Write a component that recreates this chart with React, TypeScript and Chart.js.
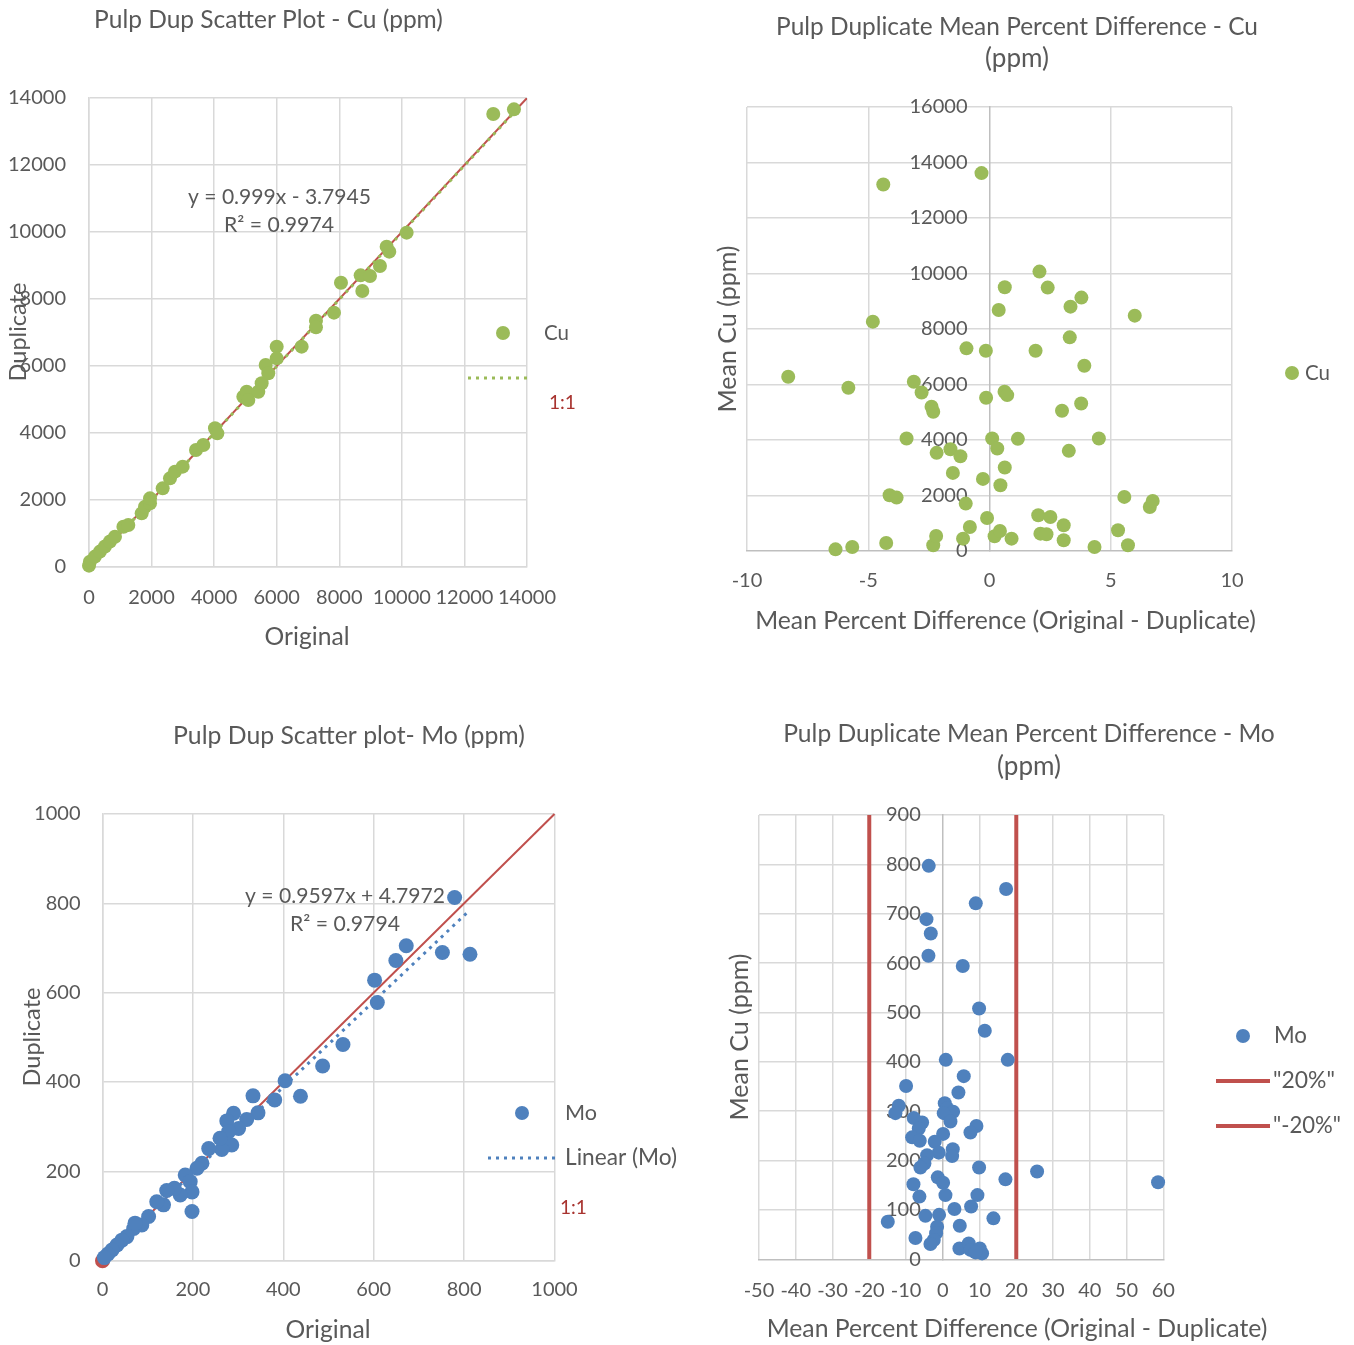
import React, { useEffect, useRef } from "react";
import { Chart, registerables } from "chart.js";

Chart.register(...registerables);

const FONT = "Lato, 'Open Sans', sans-serif";
const TEXT = "#595959";
const GRID = "#D9D9D9";
const AXIS = "#BFBFBF";
const GREEN = "#9BBB59";
const BLUE = "#4F81BD";
const RED = "#C0504D";
const DARKRED = "#A8332F";

// ---------- Chart 1: Pulp Dup Scatter Plot - Cu ----------
const cuOriginal = [0, 30, 190, 350, 510, 670, 830, 1100, 1257, 1684, 1790, 1950, 1950, 2355, 2589, 2749, 2994, 3420, 3654, 4027, 4102, 4933, 5040, 5093, 5412, 5519, 5647, 5731, 5999, 5999, 6797, 7255, 7255, 7830, 8054, 8683, 8736, 8981, 9300, 9514, 9598, 10153, 12922, 13583];
const cuDuplicate = [40, 160, 310, 460, 610, 760, 905, 1200, 1254, 1602, 1800, 1900, 2050, 2348, 2647, 2846, 2995, 3493, 3642, 4140, 3990, 5084, 5233, 4985, 5233, 5483, 6030, 5782, 6577, 6229, 6577, 7353, 7154, 7592, 8487, 8706, 8239, 8686, 8985, 9562, 9413, 9980, 13522, 13661];
const cuFit = { slope: 0.999, intercept: -3.7945, r2: 0.9974 };
const cuScatterTicks = [0, 2000, 4000, 6000, 8000, 10000, 12000, 14000];

// ---------- Chart 2: Mean Percent Difference - Cu ----------
const cuMeanPctDiff = [-4.38, -0.33, -8.3, -5.82, -4.81, -3.42, -3.12, -2.8, -2.39, -2.32, -2.18, -1.61, -1.2, -1.51, -0.95, -0.15, -0.14, -4.12, -3.83, -6.35, -5.66, -4.26, -2.32, -2.2, -1.09, -0.98, -0.81, -0.27, -0.1, 0.11, 0.32, 0.63, 0.45, 0.21, 0.43, 0.91, 1.17, 0.63, 0.38, 0.62, 0.73, 2.06, 2.4, 1.9, 2.01, 2.51, 2.1, 2.35, 2.99, 3.06, 3.06, 3.27, 3.34, 3.31, 3.79, 3.91, 3.78, 4.51, 4.33, 5.3, 5.56, 5.71, 5.99, 6.61, 6.73];
const cuMean = [13209, 13618, 6280, 5883, 8265, 4054, 6099, 5714, 5197, 5017, 3537, 3669, 3417, 2815, 7302, 7218, 5522, 2009, 1925, 60, 144, 289, 205, 541, 445, 1708, 866, 2598, 1191, 4054, 3693, 3008, 2370, 529, 722, 445, 4042, 9504, 8686, 5738, 5618, 10069, 9492, 7218, 1287, 1227, 626, 601, 5053, 926, 385, 3609, 8806, 7699, 9131, 6677, 5317, 4054, 144, 746, 1949, 205, 8481, 1588, 1805];
const cuPctTicks = [-10, -5, 0, 5, 10];
const cuMeanTicks = [0, 2000, 4000, 6000, 8000, 10000, 12000, 14000, 16000];

// ---------- Chart 3: Pulp Dup Scatter plot - Mo ----------
const moOriginal = [779, 752, 813, 672, 649, 602, 608, 532, 487, 438, 404, 381, 333, 344, 290, 319, 275, 301, 279, 286, 264, 235, 260, 220, 209, 183, 194, 198, 198, 172, 159, 142, 135, 120, 102, 87, 69, 72, 54, 43, 32, 21, 12, 4];
const moDuplicate = [813, 690, 686, 705, 672, 628, 578, 484, 436, 368, 403, 360, 369, 331, 330, 316, 313, 296, 289, 259, 249, 251, 274, 218, 207, 192, 177, 154, 110, 147, 162, 157, 125, 132, 99, 80, 72, 84, 54, 46, 35, 24, 15, 7];
const moFit = { slope: 0.9597, intercept: 4.7972, r2: 0.9794 };
const moScatterTicks = [0, 200, 400, 600, 800, 1000];

// ---------- Chart 4: Mean Percent Difference - Mo ----------
const moMeanPctDiff = [-3.81, 17.23, 8.98, -4.44, -3.26, -3.9, 5.44, 9.88, 11.43, 0.82, 17.68, 5.71, -9.98, 4.26, -11.97, -12.88, 0.54, 1.18, 2.81, 0.27, 2.09, -7.89, -5.62, -6.53, 9.16, 7.53, 0.09, -8.34, -6.26, -2.18, 2.72, 2.54, -1.09, -4.26, -4.99, -6.08, 9.88, 25.66, 17.05, 58.58, -1.36, 0.09, -7.98, -6.35, 0.73, 9.43, 7.71, 3.17, -1.0, -4.72, 13.78, -14.96, 4.63, -1.54, -1.81, -2.45, -3.36, -7.44, 4.53, 7.07, 7.53, 10.07, 10.7, 8.89];
const moMean = [797, 750, 721, 689, 660, 615, 594, 508, 463, 404, 404, 371, 351, 338, 311, 296, 316, 306, 299, 296, 279, 286, 277, 265, 270, 257, 254, 247, 240, 238, 223, 209, 216, 211, 194, 186, 186, 178, 162, 156, 166, 155, 152, 127, 130, 130, 107, 102, 90, 88, 83, 76, 68, 66, 53, 39, 31, 43, 22, 32, 19, 22, 12, 14];
const moLimits = [20, -20];
const moLimitLabels = ['"20%"', '"-20%"'];
const moPctTicks = [-50, -40, -30, -20, -10, 0, 10, 20, 30, 40, 50, 60];
const moMeanTicks = [0, 100, 200, 300, 400, 500, 600, 700, 800, 900];

// ---------- helpers ----------
function zip(xs: number[], ys: number[]) {
  return xs.map((x, i) => ({ x, y: ys[i] }));
}
function trendPoints(xs: number[], fit: { slope: number; intercept: number }) {
  const lo = Math.min(...xs);
  const hi = Math.max(...xs);
  return [lo, hi].map((x) => ({ x, y: fit.slope * x + fit.intercept }));
}
function fmt(n: number, d: number) {
  return n.toFixed(d);
}

function linearAxis(tickValues: number[], size: number, padding: number, horizontal: boolean, borderColor: string, hideZeroGrid = false): any {
  return {
    type: "linear",
    min: tickValues[0],
    max: tickValues[tickValues.length - 1],
    afterBuildTicks: (s: any) => {
      s.ticks = tickValues.map((v) => ({ value: v }));
    },
    afterFit: (s: any) => {
      if (horizontal) s.height = size;
      else s.width = size;
      s.paddingLeft = 0;
      s.paddingRight = 0;
      s.paddingTop = 0;
      s.paddingBottom = 0;
    },
    ticks: {
      color: TEXT,
      font: { family: FONT, size: 20 },
      padding,
      autoSkip: false,
      maxRotation: 0,
      minRotation: 0,
      callback: (v: any) => String(v),
    },
    grid: {
      color: (c: any) => (hideZeroGrid && c.tick && c.tick.value === 0 ? "rgba(0,0,0,0)" : GRID),
      lineWidth: 1.5,
      drawTicks: false,
    },
    border: { display: true, color: borderColor, width: 1.5 },
  };
}

function crossingYAxis(tickValues: number[]): any {
  return {
    type: "linear",
    position: { x: 0 },
    min: tickValues[0],
    max: tickValues[tickValues.length - 1],
    afterBuildTicks: (s: any) => {
      s.ticks = tickValues.map((v) => ({ value: v }));
    },
    afterFit: (s: any) => {
      s.paddingLeft = 0;
      s.paddingRight = 0;
      s.paddingTop = 0;
      s.paddingBottom = 0;
    },
    ticks: { display: false },
    grid: {
      color: (c: any) => (c.tick && c.tick.value === 0 ? "rgba(0,0,0,0)" : GRID),
      lineWidth: 1.5,
      drawTicks: false,
    },
    border: { display: true, color: AXIS, width: 1.5 },
  };
}

type TextItem = { text: string; x: number; y: number; w: number; rotate?: boolean; color?: string; align?: "left" | "center" };
type LegendItem =
  | { kind: "dot"; x: number; y: number; color: string }
  | { kind: "line"; x1: number; x2: number; y: number; color: string; width: number; dash?: number[] };

function fitText(ctx: CanvasRenderingContext2D, t: TextItem) {
  ctx.save();
  ctx.font = `20px ${FONT}`;
  const m = ctx.measureText(t.text).width || 1;
  const size = (20 * t.w) / m;
  ctx.font = `${size}px ${FONT}`;
  ctx.fillStyle = t.color || TEXT;
  ctx.textBaseline = "middle";
  ctx.textAlign = t.align || "center";
  if (t.rotate) {
    ctx.translate(t.x, t.y);
    ctx.rotate(-Math.PI / 2);
    ctx.fillText(t.text, 0, 0);
  } else {
    ctx.fillText(t.text, t.x, t.y);
  }
  ctx.restore();
}

function decorPlugin(off: { x: number; y: number }, under: TextItem[], over: TextItem[], legend: LegendItem[], crossLabels: boolean): any {
  return {
    id: "decor",
    beforeDatasetsDraw(chart: any) {
      const ctx = chart.ctx as CanvasRenderingContext2D;
      if (crossLabels) {
        const xs = chart.scales.x;
        const ys = chart.scales.y;
        const x0 = xs.getPixelForValue(0) - 22;
        ctx.save();
        ctx.font = `20px ${FONT}`;
        ctx.fillStyle = TEXT;
        ctx.textAlign = "right";
        ctx.textBaseline = "middle";
        ys.ticks.forEach((t: any) => ctx.fillText(String(t.value), x0, ys.getPixelForValue(t.value)));
        ctx.restore();
      }
      under.forEach((t) => fitText(ctx, { ...t, x: t.x - off.x, y: t.y - off.y }));
    },
    afterDraw(chart: any) {
      const ctx = chart.ctx as CanvasRenderingContext2D;
      over.forEach((t) => fitText(ctx, { ...t, x: t.x - off.x, y: t.y - off.y }));
      legend.forEach((l) => {
        ctx.save();
        if (l.kind === "dot") {
          ctx.fillStyle = l.color;
          ctx.beginPath();
          ctx.arc(l.x - off.x, l.y - off.y, 7, 0, Math.PI * 2);
          ctx.fill();
        } else {
          ctx.strokeStyle = l.color;
          ctx.lineWidth = l.width;
          ctx.setLineDash(l.dash || []);
          ctx.beginPath();
          ctx.moveTo(l.x1 - off.x, l.y - off.y);
          ctx.lineTo(l.x2 - off.x, l.y - off.y);
          ctx.stroke();
        }
        ctx.restore();
      });
    },
  };
}

function baseOptions(padding: any, scales: any) {
  return {
    responsive: false,
    animation: false,
    events: [],
    layout: { padding },
    plugins: { legend: { display: false }, tooltip: { enabled: false }, title: { display: false } },
    scales,
  };
}

// ---------- chart builders ----------
function buildCuScatter(off: { x: number; y: number }): any {
  const lastTick = cuScatterTicks[cuScatterTicks.length - 1];
  return {
    type: "scatter",
    data: {
      datasets: [
        { label: "Cu", data: zip(cuOriginal, cuDuplicate), backgroundColor: GREEN, borderColor: GREEN, borderWidth: 0, pointRadius: 7, pointHoverRadius: 7, order: 1, clip: false },
        { label: "Linear (Cu)", data: trendPoints(cuOriginal, cuFit), showLine: true, borderColor: GREEN, borderWidth: 3, borderDash: [3, 5], pointRadius: 0, order: 2 },
        { label: "1:1", data: [{ x: cuScatterTicks[0], y: cuScatterTicks[0] }, { x: lastTick, y: lastTick }], showLine: true, borderColor: RED, borderWidth: 2, pointRadius: 0, order: 3 },
      ],
    },
    options: baseOptions(
      { left: 4, right: 150, top: 98, bottom: 55 },
      { x: linearAxis(cuScatterTicks, 50, 19, true, GRID), y: linearAxis(cuScatterTicks, 85, 23, false, GRID) }
    ),
    plugins: [
      decorPlugin(
        off,
        [
          { text: `y = ${fmt(cuFit.slope, 3)}x - ${fmt(Math.abs(cuFit.intercept), 4)}`, x: 279.5, y: 197, w: 183 },
          { text: `R² = ${fmt(cuFit.r2, 4)}`, x: 279, y: 225, w: 110 },
        ],
        [
          { text: "Pulp Dup Scatter Plot - Cu (ppm)", x: 268.5, y: 20, w: 349 },
          { text: "Original", x: 307, y: 637, w: 85 },
          { text: "Duplicate", x: 18, y: 332, w: 99, rotate: true },
          { text: "Cu", x: 544, y: 333, w: 25, align: "left" },
          { text: "1:1", x: 549, y: 403, w: 27, align: "left", color: DARKRED },
        ],
        [
          { kind: "dot", x: 503, y: 333, color: GREEN },
          { kind: "line", x1: 468, x2: 528, y: 378, color: GREEN, width: 3, dash: [3, 5] },
        ],
        false
      ),
    ],
  };
}

function buildCuPct(off: { x: number; y: number }): any {
  return {
    type: "scatter",
    data: {
      datasets: [
        { label: "Cu", data: zip(cuMeanPctDiff, cuMean), backgroundColor: GREEN, borderColor: GREEN, borderWidth: 0, pointRadius: 7, pointHoverRadius: 7, clip: false },
      ],
    },
    options: baseOptions(
      { left: 70, right: 122, top: 107, bottom: 71 },
      { x: linearAxis(cuPctTicks, 50, 18, true, AXIS, true), y: crossingYAxis(cuMeanTicks) }
    ),
    plugins: [
      decorPlugin(
        off,
        [],
        [
          { text: "Pulp Duplicate Mean Percent Difference - Cu", x: 1017, y: 27, w: 482 },
          { text: "(ppm)", x: 1017, y: 59, w: 64 },
          { text: "Mean Percent Difference (Original - Duplicate)", x: 1005.5, y: 621, w: 501 },
          { text: "Mean Cu (ppm)", x: 728, y: 329, w: 167, rotate: true },
          { text: "Cu", x: 1305, y: 373, w: 25, align: "left" },
        ],
        [{ kind: "dot", x: 1292, y: 373, color: GREEN }],
        true
      ),
    ],
  };
}

function buildMoScatter(off: { x: number; y: number }): any {
  const lastTick = moScatterTicks[moScatterTicks.length - 1];
  return {
    type: "scatter",
    data: {
      datasets: [
        { label: "Mo", data: zip(moOriginal, moDuplicate), backgroundColor: BLUE, borderColor: BLUE, borderWidth: 0, pointRadius: 7.5, pointHoverRadius: 7.5, order: 1, clip: false },
        { label: "Linear (Mo)", data: trendPoints(moOriginal, moFit), showLine: true, borderColor: BLUE, borderWidth: 3, borderDash: [3, 5], pointRadius: 0, order: 2 },
        { label: "1:1", data: [{ x: moScatterTicks[0], y: moScatterTicks[0] }, { x: lastTick, y: lastTick }], showLine: true, borderColor: RED, backgroundColor: RED, borderWidth: 2, pointRadius: [7.5, 0], pointBorderWidth: 0, order: 3, clip: false },
      ],
    },
    options: baseOptions(
      { left: 7.5, right: 122.5, top: 142, bottom: 34.3 },
      { x: linearAxis(moScatterTicks, 50, 17, true, GRID), y: linearAxis(moScatterTicks, 95, 22, false, GRID) }
    ),
    plugins: [
      decorPlugin(
        off,
        [
          { text: `y = ${fmt(moFit.slope, 4)}x + ${fmt(moFit.intercept, 4)}`, x: 345, y: 896, w: 200 },
          { text: `R² = ${fmt(moFit.r2, 4)}`, x: 345, y: 924, w: 110 },
        ],
        [
          { text: "Pulp Dup Scatter plot- Mo (ppm)", x: 349, y: 736, w: 352 },
          { text: "Original", x: 328, y: 1330, w: 85 },
          { text: "Duplicate", x: 32, y: 1037, w: 99, rotate: true },
          { text: "Mo", x: 565, y: 1113, w: 32, align: "left" },
          { text: "Linear (Mo)", x: 565, y: 1158, w: 112, align: "left" },
          { text: "1:1", x: 560, y: 1208, w: 27, align: "left", color: DARKRED },
        ],
        [
          { kind: "dot", x: 522, y: 1113, color: BLUE },
          { kind: "line", x1: 488, x2: 555, y: 1158, color: BLUE, width: 3, dash: [3, 5] },
        ],
        false
      ),
    ],
  };
}

function buildMoPct(off: { x: number; y: number }): any {
  const yLo = moMeanTicks[0];
  const yHi = moMeanTicks[moMeanTicks.length - 1];
  return {
    type: "scatter",
    data: {
      datasets: [
        { label: "Mo", data: zip(moMeanPctDiff, moMean), backgroundColor: BLUE, borderColor: BLUE, borderWidth: 0, pointRadius: 7, pointHoverRadius: 7, order: 1, clip: false },
        ...moLimits.map((v, i) => ({ label: moLimitLabels[i], data: [{ x: v, y: yLo }, { x: v, y: yHi }], showLine: true, borderColor: RED, borderWidth: 4, pointRadius: 0, order: 2 })),
      ],
    },
    options: baseOptions(
      { left: 82, right: 190.7, top: 143, bottom: 35.7 },
      { x: linearAxis(moPctTicks, 50, 19, true, AXIS, true), y: crossingYAxis(moMeanTicks) }
    ),
    plugins: [
      decorPlugin(
        off,
        [],
        [
          { text: "Pulp Duplicate Mean Percent Difference - Mo", x: 1029, y: 734, w: 492 },
          { text: "(ppm)", x: 1029, y: 767, w: 64 },
          { text: "Mean Percent Difference (Original - Duplicate)", x: 1017, y: 1329, w: 501 },
          { text: "Mean Cu (ppm)", x: 740, y: 1037, w: 167, rotate: true },
          { text: "Mo", x: 1274, y: 1036, w: 33, align: "left" },
          { text: moLimitLabels[0], x: 1273, y: 1081, w: 62, align: "left" },
          { text: moLimitLabels[1], x: 1273, y: 1126, w: 68, align: "left" },
        ],
        [
          { kind: "dot", x: 1243, y: 1036, color: BLUE },
          { kind: "line", x1: 1216, x2: 1270, y: 1081, color: RED, width: 4 },
          { kind: "line", x1: 1216, x2: 1270, y: 1126, color: RED, width: 4 },
        ],
        true
      ),
    ],
  };
}

function ChartBox(props: { left: number; top: number; width: number; height: number; build: (off: { x: number; y: number }) => any }) {
  const ref = useRef<HTMLCanvasElement>(null);
  useEffect(() => {
    const chart = new Chart(ref.current as HTMLCanvasElement, props.build({ x: props.left, y: props.top }));
    return () => chart.destroy();
  }, []);
  return (
    <canvas
      ref={ref}
      width={props.width}
      height={props.height}
      style={{ position: "absolute", left: props.left, top: props.top, width: props.width, height: props.height }}
    />
  );
}

export default function App() {
  return (
    <div style={{ position: "absolute", left: 0, top: 0, width: 1354, height: 1345, background: "#ffffff", overflow: "hidden" }}>
      <ChartBox left={0} top={0} width={677} height={672} build={buildCuScatter} />
      <ChartBox left={677} top={0} width={677} height={672} build={buildCuPct} />
      <ChartBox left={0} top={672} width={677} height={673} build={buildMoScatter} />
      <ChartBox left={677} top={672} width={677} height={673} build={buildMoPct} />
    </div>
  );
}
